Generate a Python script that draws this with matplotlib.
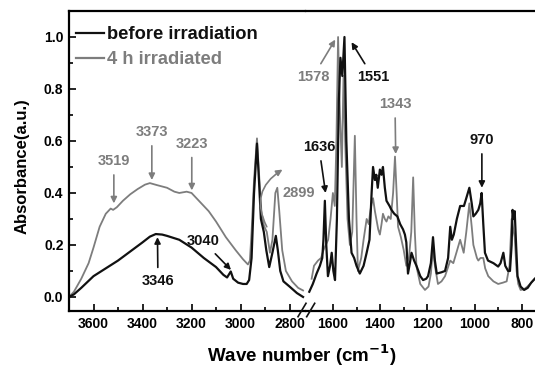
import numpy as np
import matplotlib
matplotlib.use("Agg")
import matplotlib.pyplot as plt
from matplotlib.lines import Line2D

plt.rcParams['font.family'] = ['Liberation Sans', 'DejaVu Sans']
plt.rcParams['font.weight'] = 'bold'

GRAY = '#7d7d7d'
BLACK = '#111111'

# ---- данные: левая часть (3700-2740 см-1)
wn_left_before = [3700, 3680, 3650, 3600, 3550, 3500, 3450, 3400, 3370, 3346, 3320, 3300,
                  3250, 3200, 3150, 3100, 3070, 3055, 3040, 3030, 3010, 2990, 2975, 2965,
                  2955, 2945, 2933, 2925, 2917, 2905, 2895, 2883, 2870, 2856, 2848, 2838,
                  2825, 2800, 2770, 2745]
ab_left_before = [0.0, 0.01, 0.035, 0.08, 0.11, 0.14, 0.175, 0.21, 0.232, 0.242, 0.24, 0.235,
                  0.22, 0.19, 0.15, 0.115, 0.085, 0.075, 0.098, 0.07, 0.055, 0.05, 0.05, 0.065,
                  0.15, 0.40, 0.59, 0.45, 0.30, 0.25, 0.18, 0.115, 0.17, 0.235, 0.18, 0.10,
                  0.06, 0.04, 0.015, 0.0]

wn_left_irr = [3700, 3680, 3650, 3620, 3600, 3575, 3550, 3530, 3520, 3505, 3480, 3450,
               3420, 3390, 3370, 3340, 3300, 3270, 3250, 3220, 3200, 3170, 3130, 3100,
               3060, 3020, 2990, 2970, 2962, 2955, 2945, 2933, 2925, 2915, 2905, 2893,
               2880, 2870, 2858, 2850, 2842, 2830, 2815, 2790, 2765, 2745]
ab_left_irr = [0.0, 0.02, 0.07, 0.13, 0.19, 0.27, 0.32, 0.34, 0.335, 0.345, 0.37, 0.395,
               0.415, 0.432, 0.438, 0.43, 0.42, 0.405, 0.40, 0.405, 0.40, 0.37, 0.33, 0.29,
               0.23, 0.18, 0.145, 0.125, 0.14, 0.25, 0.45, 0.61, 0.48, 0.33, 0.275, 0.25,
               0.17, 0.22, 0.40, 0.42, 0.33, 0.18, 0.10, 0.06, 0.035, 0.025]

# ---- данные: правая часть (1700-745 см-1)
wn_right_before = [1700, 1685, 1669, 1655, 1645, 1640, 1634, 1628, 1621, 1612, 1605, 1598,
                   1591, 1583, 1575, 1568, 1560, 1551, 1543, 1532, 1521, 1510, 1500, 1486,
                   1470, 1457, 1445, 1436, 1430, 1422, 1416, 1410, 1401, 1394, 1388, 1380,
                   1373, 1360, 1352, 1340, 1327, 1315, 1303, 1295, 1289, 1282, 1274, 1267,
                   1256, 1246, 1230, 1218, 1205, 1197, 1185, 1176, 1168, 1160, 1140, 1125,
                   1112, 1103, 1096, 1088, 1075, 1061, 1045, 1035, 1022, 1012, 1005, 995,
                   984, 976, 970, 963, 956, 943, 920, 900, 890, 878, 870, 858,
                   850, 843, 839, 834, 830, 824, 818, 805, 790, 775, 760, 745]
ab_right_before = [0.02, 0.05, 0.09, 0.12, 0.15, 0.22, 0.37, 0.20, 0.08, 0.12, 0.17, 0.10,
                   0.065, 0.30, 0.75, 0.92, 0.85, 1.0, 0.60, 0.30, 0.17, 0.15, 0.12, 0.09,
                   0.12, 0.17, 0.22, 0.40, 0.50, 0.45, 0.47, 0.42, 0.49, 0.47, 0.50, 0.42,
                   0.37, 0.35, 0.335, 0.32, 0.31, 0.28, 0.26, 0.24, 0.21, 0.09, 0.13, 0.17,
                   0.14, 0.12, 0.08, 0.065, 0.07, 0.08, 0.13, 0.23, 0.14, 0.09, 0.095, 0.10,
                   0.15, 0.27, 0.22, 0.24, 0.30, 0.35, 0.35, 0.38, 0.42, 0.36, 0.31, 0.32,
                   0.335, 0.36, 0.40, 0.28, 0.17, 0.14, 0.13, 0.117, 0.13, 0.17, 0.12, 0.10,
                   0.10, 0.20, 0.335, 0.30, 0.33, 0.20, 0.08, 0.04, 0.027, 0.035, 0.055, 0.07]

wn_right_irr = [1690, 1680, 1663, 1650, 1640, 1630, 1620, 1610, 1600, 1592, 1585, 1578,
                1570, 1562, 1555, 1548, 1538, 1528, 1518, 1507, 1500, 1494, 1480, 1470,
                1457, 1448, 1443, 1436, 1430, 1422, 1416, 1408, 1401, 1394, 1388, 1380,
                1373, 1365, 1355, 1345, 1337, 1330, 1324, 1312, 1300, 1289, 1278, 1268,
                1260, 1253, 1246, 1230, 1210, 1195, 1185, 1176, 1168, 1155, 1140, 1125,
                1103, 1090, 1077, 1061, 1046, 1035, 1022, 1012, 1005, 990, 984, 975,
                963, 955, 942, 920, 900, 880, 864, 852, 843, 836, 830, 822,
                815, 805, 790, 776, 760, 745]
ab_right_irr = [0.07, 0.12, 0.14, 0.15, 0.18, 0.20, 0.22, 0.30, 0.40, 0.35, 0.60, 1.0,
                0.70, 0.50, 0.85, 0.60, 0.30, 0.20, 0.25, 0.62, 0.30, 0.10, 0.15, 0.22,
                0.30, 0.28, 0.32, 0.36, 0.38, 0.33, 0.30, 0.26, 0.24, 0.28, 0.32, 0.30,
                0.29, 0.31, 0.30, 0.40, 0.54, 0.40, 0.27, 0.23, 0.18, 0.12, 0.15, 0.25,
                0.46, 0.25, 0.117, 0.05, 0.027, 0.04, 0.09, 0.19, 0.12, 0.05, 0.06, 0.08,
                0.14, 0.13, 0.17, 0.22, 0.17, 0.25, 0.36, 0.27, 0.20, 0.15, 0.14, 0.15,
                0.15, 0.11, 0.08, 0.06, 0.05, 0.055, 0.06, 0.12, 0.30, 0.26, 0.23, 0.10,
                0.05, 0.027, 0.03, 0.04, 0.055, 0.07]

series_labels = ['before irradiation', '4 h irradiated']

fig = plt.figure(figsize=(5.35, 3.69), dpi=100)
ax1 = fig.add_axes([69/535, 1-311/369, (305.5-69)/535, 300/369])
ax2 = fig.add_axes([305.5/535, 1-311/369, (535-305.5)/535, 300/369])
ax2.patch.set_visible(False)

ax1.plot(wn_left_irr, ab_left_irr, color=GRAY, lw=1.3)
ax1.plot(wn_left_before, ab_left_before, color=BLACK, lw=1.6)
ax2.plot(wn_right_irr, ab_right_irr, color=GRAY, lw=1.3)
ax2.plot(wn_right_before, ab_right_before, color=BLACK, lw=1.6)

ax1.set_xlim(3700, 2735)
ax2.set_xlim(1716, 744)
for ax in (ax1, ax2):
    ax.set_ylim(-0.054, 1.1)
    ax.tick_params(which='both', direction='in', width=1.2, labelsize=10, pad=4)
    ax.tick_params(which='major', length=5)
    ax.tick_params(which='minor', length=3)
    for s in ax.spines.values():
        s.set_linewidth(1.6)
ax1.set_xticks([3600, 3400, 3200, 3000, 2800])
ax1.set_xticks([3500, 3300, 3100, 2900], minor=True)
ax2.set_xticks([1600, 1400, 1200, 1000, 800])
ax2.set_xticks([1500, 1300, 1100, 900], minor=True)
ax1.set_yticks(np.arange(0, 1.01, 0.2))
ax1.set_yticks(np.arange(0.1, 1.01, 0.2), minor=True)
ax1.set_yticklabels([f'{v:.1f}' for v in np.arange(0, 1.01, 0.2)])
ax1.spines['right'].set_visible(False)
ax2.spines['left'].set_visible(False)
ax2.spines['right'].set_visible(False)
ax2.tick_params(which='both', left=False, labelleft=False)

# легенда
handles = [Line2D([], [], color=BLACK, lw=1.6), Line2D([], [], color=GRAY, lw=1.6)]
ax1.legend(handles, series_labels, loc='upper left', bbox_to_anchor=(0.03, 0.95),
           frameon=False, fontsize=13.2, handlelength=1.5, handletextpad=0.2,
           labelspacing=0.45, borderaxespad=0, borderpad=0, labelcolor='linecolor')

# подписи пиков
def mark(ax, txt, xy, xytext, color):
    ax.annotate(txt, xy=xy, xytext=xytext, color=color, fontsize=10.5, ha='center', va='center',
                arrowprops=dict(arrowstyle='-|>', color=color, lw=1.2, mutation_scale=9,
                                shrinkA=3, shrinkB=0))

mark(ax1, '3519', (3517, 0.36), (3517, 0.523), GRAY)
mark(ax1, '3373', (3362, 0.45), (3362, 0.635), GRAY)
mark(ax1, '3223', (3199, 0.41), (3199, 0.59), GRAY)
mark(ax1, '3346', (3339, 0.23), (3337, 0.06), BLACK)
mark(ax1, '3040', (3039, 0.104), (3154, 0.215), BLACK)
mark(ax2, '1636', (1631, 0.40), (1659, 0.577), BLACK)
mark(ax2, '1578', (1590, 0.99), (1685, 0.846), GRAY)
mark(ax2, '1551', (1521, 0.98), (1430, 0.846), BLACK)
mark(ax2, '1343', (1334, 0.55), (1337, 0.742), GRAY)
mark(ax2, '970', (969, 0.42), (969, 0.604), BLACK)

ax1.text(2762, 0.40, '2899', color=GRAY, fontsize=10.5, ha='center', va='center',
         zorder=5)
ax1.annotate('', xy=(2829, 0.49), xytext=(2893, 0.27),
             arrowprops=dict(arrowstyle='-|>', color=GRAY, lw=1.2, mutation_scale=9,
                             shrinkA=0, shrinkB=0, connectionstyle='arc3,rad=-0.45'))

# разрыв оси
for x0 in (298, 306.7):
    fig.add_artist(Line2D([x0/535, (x0+8)/535], [1-316.7/369, 1-303.3/369],
                          color=BLACK, lw=1.2, transform=fig.transFigure))

fig.text(22/535, 1-166/369, 'Absorbance(a.u.)', rotation=90, ha='center', va='center',
         fontsize=12)
fig.text(302/535, 1-355/369, 'Wave number (cm$^{\\mathbf{-1}}$)', ha='center', va='center',
         fontsize=13.5)

fig.savefig('out.png', dpi=100)
